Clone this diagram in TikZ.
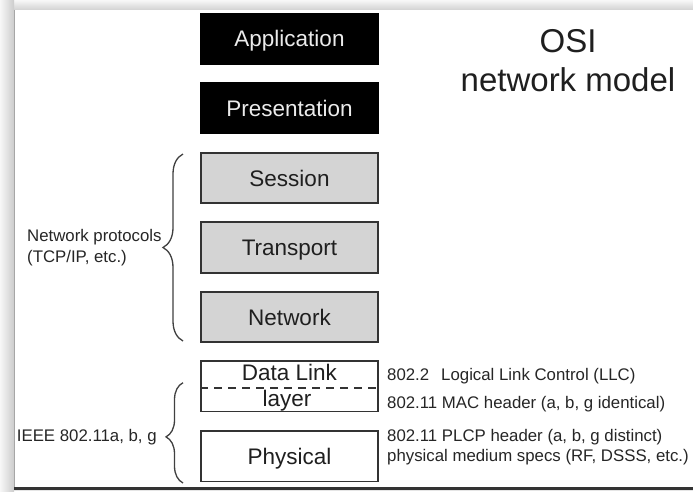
\documentclass[tikz,border=0pt]{standalone}
\usepackage{fontspec}
\setmainfont{Liberation Sans}
\usetikzlibrary{decorations.pathreplacing}
\begin{document}
\begin{tikzpicture}[x=1pt,y=-1pt,
  layerbox/.style={draw=black!80, line width=1.6pt, minimum width=177pt, minimum height=50.5pt,
    inner sep=0pt, font=\fontsize{22.5}{27}\selectfont, text height=16.1pt, text depth=0pt},
  blackbox/.style={layerbox, draw=black, fill=black, text=black!8},
  graybox/.style={layerbox, fill=black!17, text=black!88},
  whitebox/.style={layerbox, fill=white, text=black!88},
  boxlabel/.style={font=\fontsize{22.5}{27}\selectfont, text=black!88, inner sep=0pt, anchor=base},
  smalltext/.style={font=\fontsize{16.8}{20}\selectfont, text=black!85, inner sep=0pt, anchor=base west},
  titletext/.style={font=\fontsize{33}{38}\selectfont, text=black!88, inner sep=0pt, anchor=base},
  bracestyle/.style={draw=black!75, line width=1.3pt, decorate}
]
\useasboundingbox (0,0) rectangle (693,491);
% frame
\fill[white] (0,0) rectangle (693,491);
\shade[top color=black!3, bottom color=black!18] (0,0) rectangle (693,10);
\shade[left color=black!3, right color=black!20] (0,0) rectangle (14,491);
\fill[white] (14,10) rectangle (693,486.5);
\draw[black!35, line width=0.8pt] (14.4,10) -- (14.4,486.5);
\fill[black!80] (14,486.5) rectangle (693,489.5);
\fill[black!10] (14,489.5) rectangle (693,491);

% layers
\node[blackbox] (app) at (289.5,38.75) {Application};
\node[blackbox] (pres) at (289.5,108) {Presentation};
\node[graybox] (sess) at (289.5,178) {Session};
\node[graybox] (trans) at (289.5,247.5) {Transport};
\node[graybox] (net) at (289.5,317) {Network};
\node[whitebox] (dl) at (289.5,386.25) {};
\node[whitebox] (phys) at (289.5,456.25) {Physical};
\draw[black!80, line width=1.6pt, dash pattern=on 8pt off 6pt] (dl.west |- 0,387.7) coordinate (dashl) -- (dl.east |- 0,387.7) coordinate (dashr);
\node[boxlabel] (dltext) at (289.5,380.7) {Data Link};
\node[boxlabel] (layertext) at (287,406.7) {layer};

% title
\node[titletext] (osi) at (568,52.7) {OSI};
\node[titletext] (model) at (568,91.7) {network model};

% braces
\coordinate (npb) at (183,341);
\coordinate (npt) at (183,154);
\draw[bracestyle, decoration={brace, amplitude=20pt}] (npb) -- (npt);
\coordinate (ieb) at (183,483);
\coordinate (iet) at (183,382.7);
\draw[bracestyle, decoration={brace, amplitude=17pt, aspect=0.46}] (ieb) -- (iet);

% left labels
\node[smalltext] (np1) at (27,241.7) {Network protocols};
\node[smalltext] (np2) at (27,262.7) {(TCP/IP, etc.)};
\node[smalltext] (ieee) at (16.7,441.7) {IEEE 802.11a, b, g};

% right labels
\node[smalltext] (llc) at (387,380.7) {802.2\hspace{12pt}Logical Link Control (LLC)};
\node[smalltext] (mac) at (387,408.3) {802.11 MAC header (a, b, g identical)};
\node[smalltext] (plcp) at (387,441.7) {802.11 PLCP header (a, b, g distinct)};
\node[smalltext] (physpec) at (387,461.8) {physical medium specs (RF, DSSS, etc.)};
\end{tikzpicture}
\end{document}
